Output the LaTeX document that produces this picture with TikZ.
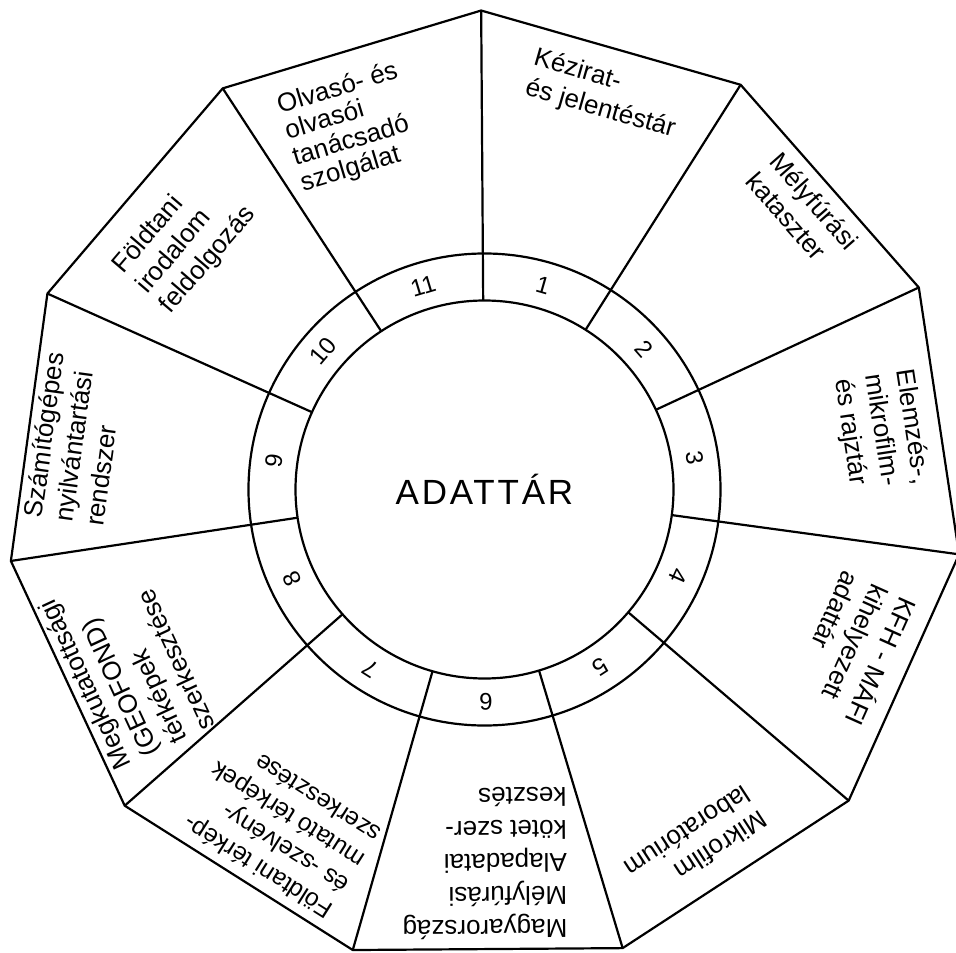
\documentclass[tikz,border=0pt]{standalone}
\usepackage{fontspec}
\setmainfont{Liberation Sans}
\usepackage{tikz}

\begin{document}
\begin{tikzpicture}[x=1pt, y=1pt, line width=1.1pt,
	sector/.style={align=left, inner sep=0pt, font=\fontsize{13}{15.5}\selectfont},
	number/.style={inner sep=0pt, font=\fontsize{12}{12}\selectfont}]
	\useasboundingbox (-242.25,-231.25) rectangle (235.75,244.75);
	
	\def\rin{94.5pt}
	\def\rout{118pt}
	\def\rpoly{239.5pt}
	
	\foreach \k in {0,...,10} {
		\coordinate (v\k) at ({90.4-\k*360/11}:\rpoly);
		\coordinate (i\k) at ({90.4-\k*360/11}:\rin);
	}
	
	\node[circle, draw, minimum size=2*\rout, inner sep=0pt] (ring) at (0,0) {};
	\node[circle, draw, minimum size=2*\rin, inner sep=0pt,
		font=\fontsize{17.5}{17.5}\selectfont\addfontfeature{LetterSpace=8}] (adattar) at (0,0) {ADATTÁR};
	
	\draw (v0) \foreach \k in {1,...,10} { -- (v\k) } -- cycle;
	\foreach \k in {0,...,10} \draw (i\k) -- (v\k);
	
	\foreach \k in {1,...,11} {
		\pgfmathsetmacro\m{90.4-(\k-0.5)*360/11}
		\node[number, rotate=\m-90] (n\k) at (\m:106.25pt) {\k};
	}
	
	\node[sector, rotate=-15.96] (kezirat) at (73.1:206.5pt) {Kézirat-\\és jelentéstár};
	\node[sector, rotate=-48.69] (melyfuras) at (41.2:211.5pt) {Mélyfúrási\\kataszter};
	\node[sector, rotate=-81.42] (elemzes) at (8.3:200.5pt) {Elemzés-,\\mikrofilm-\\és rajztár};
	\node[sector, rotate=-114.15] (kfh) at (-23.4:201.5pt) {KFH - MÁFI\\kihelyezett\\adattár};
	\node[sector, rotate=-146.88] (mikrofilm) at (-59.2:206.5pt) {Mikrofilm\\laboratórium};
	\node[sector, rotate=-179.6, font=\fontsize{13}{16.5}\selectfont] (alapadat) at (-90:187pt) {Magyarország\\Mélyfúrási\\Alapadatai\\kötet szer-\\kesztés};
	\node[sector, rotate=147.67, font=\fontsize{12.3}{15}\selectfont] (terkep) at (-121.2:198pt) {Földtani térkép-\\és -szelvény-\\mutató térképek\\szerkesztése};
	\node[sector, rotate=114.94] (geofond) at (-153.8:199.5pt) {Megkutatottsági\\(GEOFOND)\\térképek\\szerkesztése};
	\node[sector, rotate=82.21] (szamitogep) at (173:206.5pt) {Számítógépes\\nyilvántartási\\rendszer};
	\node[sector, rotate=49.48] (irodalom) at (140.2:195pt) {Földtani\\irodalom\\feldolgozás};
	\node[sector, rotate=16.75, font=\fontsize{13}{13.5}\selectfont] (olvaso) at (110.5:193pt) {Olvasó- és\\olvasói\\tanácsadó\\szolgálat};
\end{tikzpicture}
\end{document}
